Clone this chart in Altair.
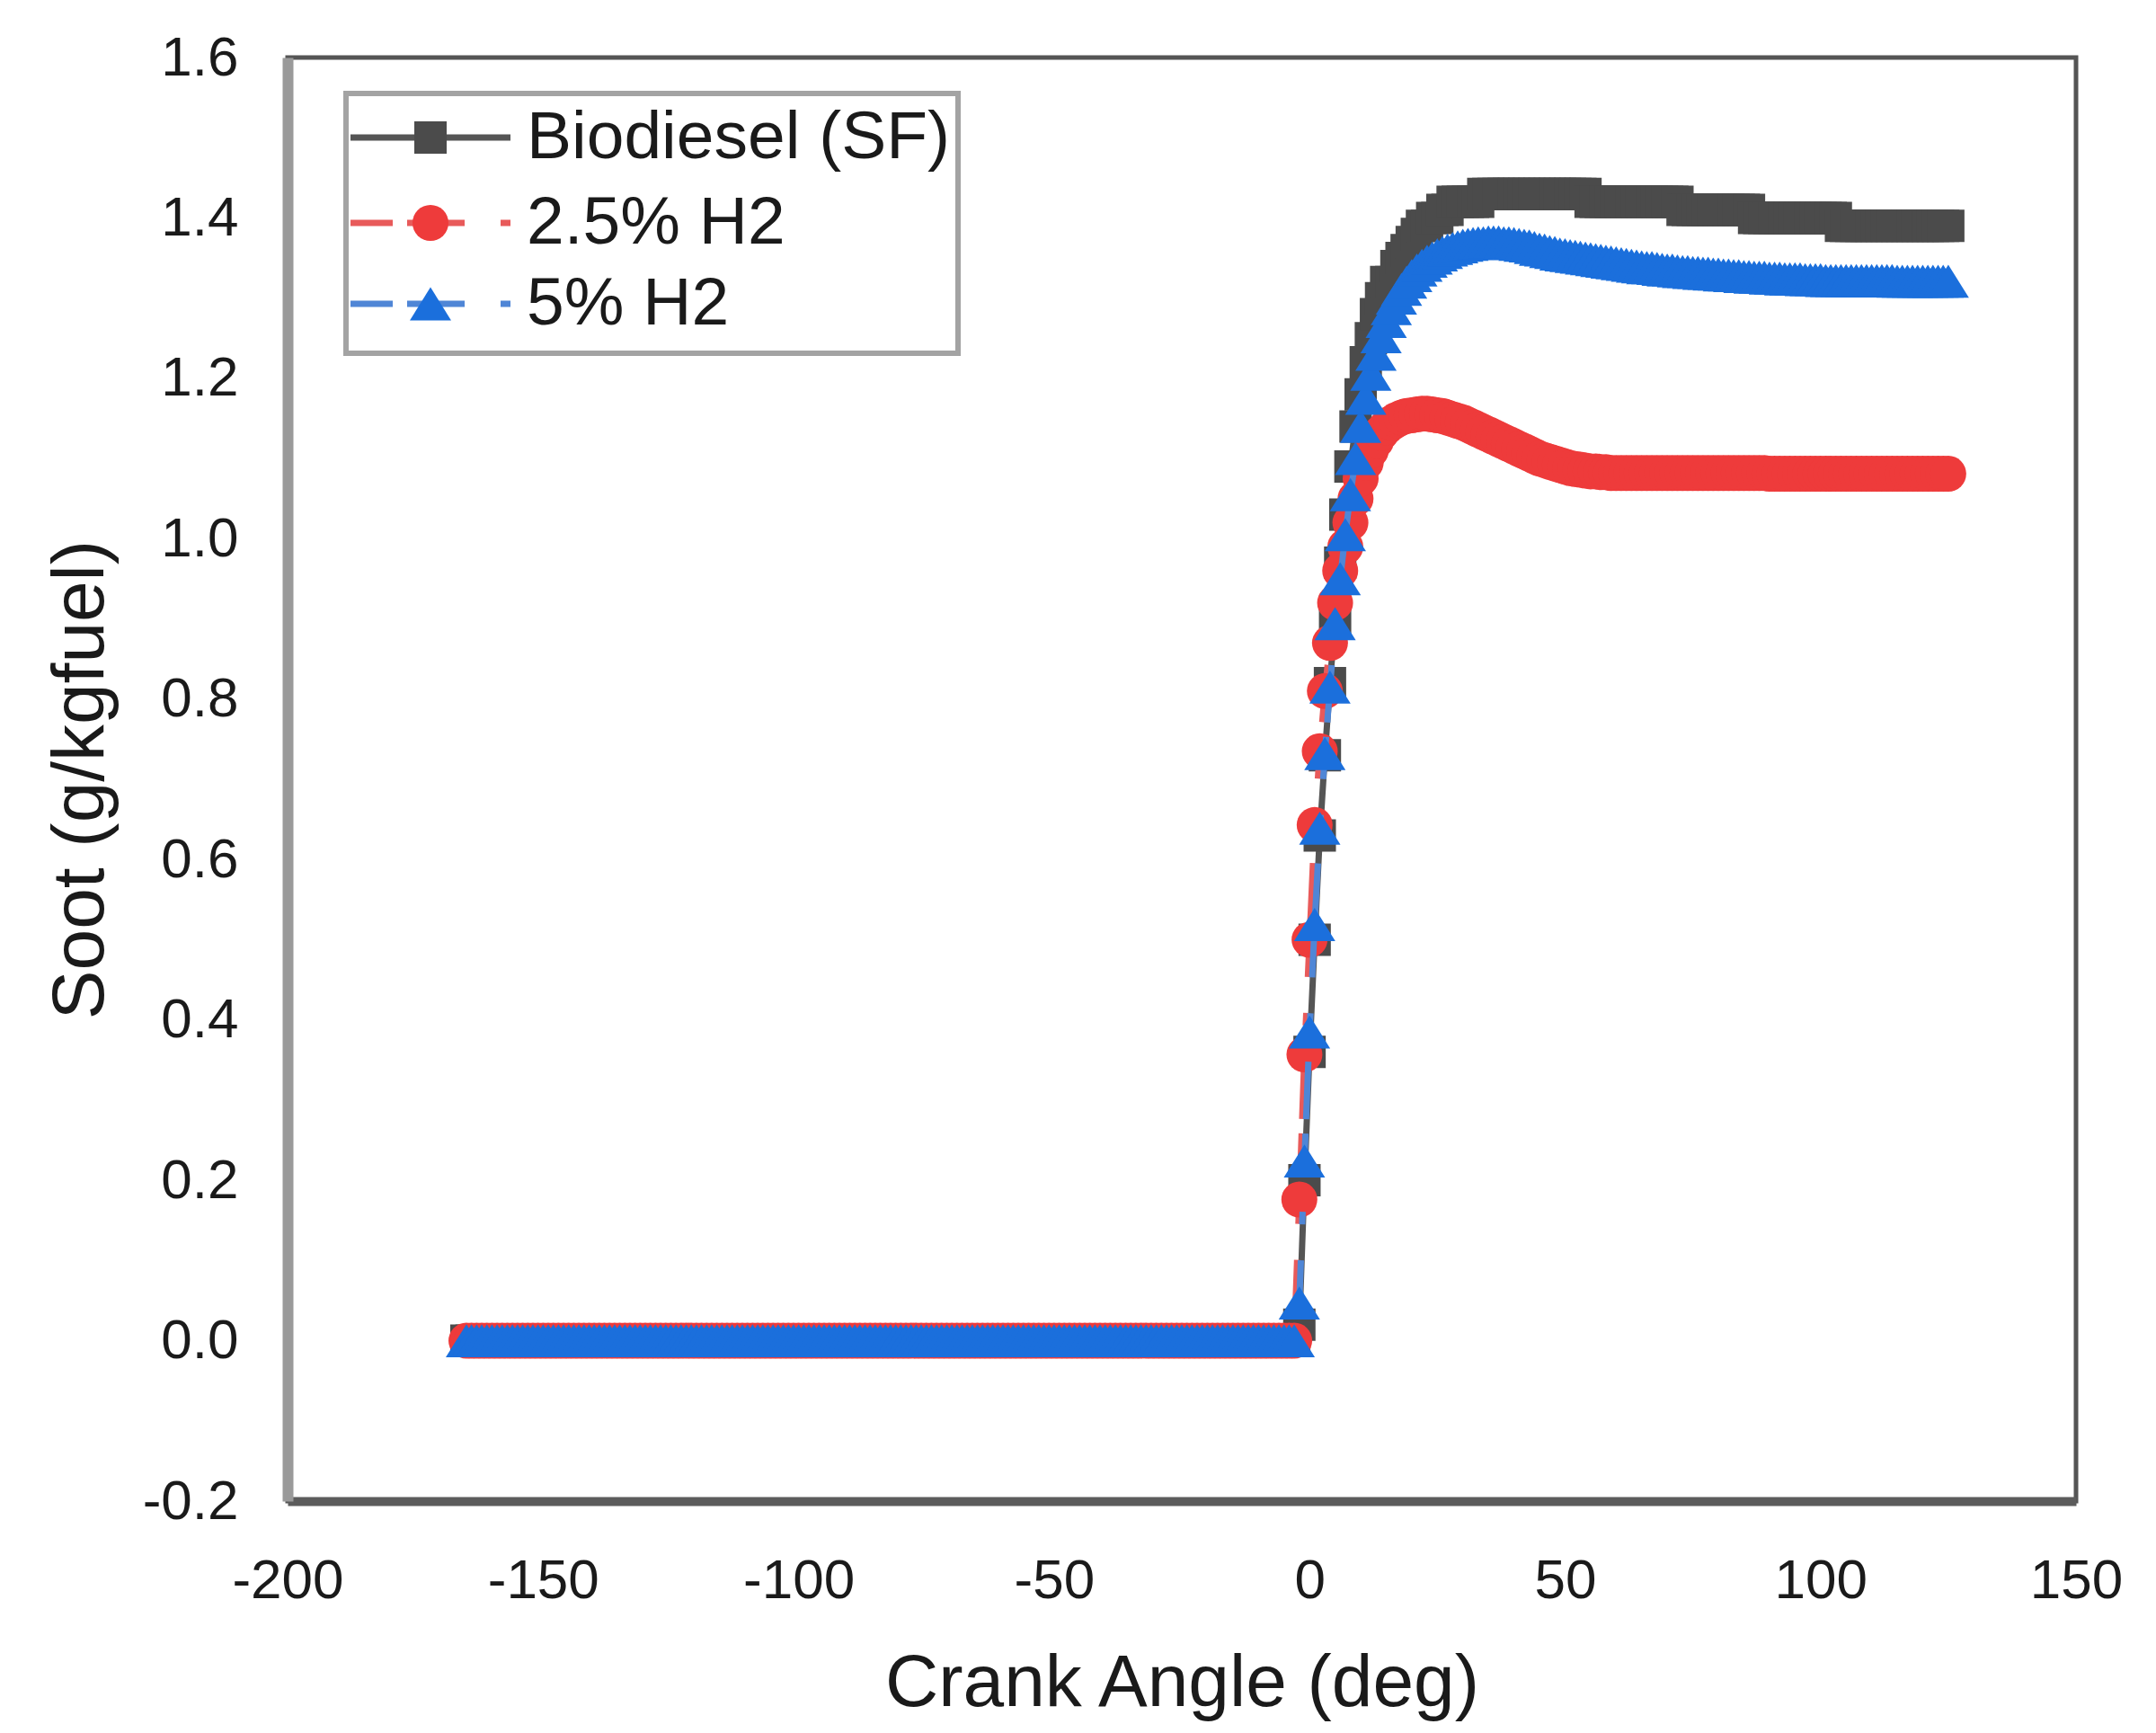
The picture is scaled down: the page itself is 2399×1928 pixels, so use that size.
import altair as alt
import pandas as pd

# ---------------- data ----------------
SERIES = ["Biodiesel (SF)", "2.5% H2", "5% H2"]

# crank-angle grid of the simulation output, 1 deg steps
ANGLES = list(range(-165, 126))

# compression stroke: no soot until just before TDC (-165 .. -3 deg)
FLAT_ZERO = [0.0] * 163

# -2 .. 125 deg
SOOT_SF_RISE = [
    0.02, 0.20, 0.36, 0.50, 0.63, 0.73, 0.82, 0.90, 0.97, 1.03, 1.09, 1.14,
    1.18, 1.22, 1.25, 1.28, 1.30, 1.32, 1.32, 1.34, 1.35, 1.36,
    1.37, 1.38, 1.39, 1.39, 1.40, 1.40, 1.41, 1.41, 1.42, 1.42,
    1.42, 1.42, 1.42, 1.42,
    1.43, 1.43, 1.43, 1.43, 1.43, 1.43, 1.43, 1.43, 1.43, 1.43, 1.43,
    1.43, 1.43, 1.43, 1.43, 1.43, 1.43, 1.43, 1.43, 1.43, 1.43,
    1.42, 1.42, 1.42, 1.42, 1.42, 1.42, 1.42, 1.42, 1.42, 1.42, 1.42, 1.42,
    1.42, 1.42, 1.42, 1.42, 1.42, 1.42,
    1.41, 1.41, 1.41, 1.41, 1.41, 1.41, 1.41, 1.41, 1.41, 1.41, 1.41, 1.41,
    1.41, 1.41,
    1.40, 1.40, 1.40, 1.40, 1.40, 1.40, 1.40, 1.40, 1.40, 1.40, 1.40, 1.40,
    1.40, 1.40, 1.40, 1.40, 1.40,
    1.39, 1.39, 1.39, 1.39, 1.39, 1.39, 1.39, 1.39, 1.39, 1.39, 1.39, 1.39,
    1.39, 1.39, 1.39, 1.39, 1.39, 1.39, 1.39, 1.39, 1.39, 1.39,
]

SOOT_H25_RISE = [
    0.176, 0.357, 0.500, 0.643, 0.735, 0.810, 0.870, 0.920, 0.960, 0.990, 1.020, 1.050,
    1.075, 1.095, 1.110, 1.122, 1.132, 1.139, 1.144, 1.148, 1.151, 1.153,
    1.154, 1.155, 1.156, 1.156, 1.155, 1.154, 1.153, 1.151, 1.149, 1.147,
    1.145, 1.142, 1.139, 1.136, 1.133, 1.130, 1.127, 1.124, 1.121, 1.118,
    1.115, 1.112, 1.109, 1.106, 1.103, 1.100, 1.098, 1.096, 1.094, 1.092,
    1.090, 1.088, 1.087, 1.086, 1.085, 1.084, 1.084, 1.083, 1.083, 1.082,
    1.082, 1.082, 1.082, 1.082, 1.082, 1.082, 1.082, 1.082, 1.082, 1.082,
    1.082, 1.082, 1.082, 1.082, 1.082, 1.082, 1.082, 1.082, 1.082, 1.082,
    1.082, 1.082, 1.082, 1.082, 1.082, 1.082, 1.082, 1.082, 1.082, 1.082,
    1.081, 1.081, 1.081, 1.081, 1.081, 1.081, 1.081, 1.081, 1.081, 1.081,
    1.081, 1.081, 1.081, 1.081, 1.081, 1.081, 1.081, 1.081, 1.081, 1.081,
    1.081, 1.081, 1.081, 1.081, 1.081, 1.081, 1.081, 1.081, 1.081, 1.081,
    1.081, 1.081, 1.081, 1.081, 1.081, 1.081,
]

SOOT_H5_RISE = [
    0.047, 0.224, 0.385, 0.519, 0.639, 0.732, 0.815, 0.894, 0.950, 1.005, 1.055, 1.100,
    1.140, 1.175, 1.205, 1.230, 1.252, 1.271, 1.287, 1.300, 1.311, 1.320,
    1.328, 1.335, 1.341, 1.346, 1.350, 1.354, 1.357, 1.360, 1.362, 1.364,
    1.366, 1.367, 1.368, 1.369, 1.369, 1.370, 1.370, 1.370, 1.369, 1.369,
    1.368, 1.367, 1.366, 1.365, 1.363, 1.361, 1.360, 1.358, 1.357, 1.355,
    1.354, 1.353, 1.352, 1.351, 1.350, 1.349, 1.348, 1.347, 1.346, 1.345,
    1.344, 1.343, 1.342, 1.341, 1.340, 1.339, 1.338, 1.338, 1.337, 1.336,
    1.335, 1.335, 1.334, 1.333, 1.333, 1.332, 1.332, 1.331, 1.331, 1.330,
    1.330, 1.329, 1.329, 1.328, 1.328, 1.327, 1.327, 1.326, 1.326, 1.326,
    1.325, 1.325, 1.325, 1.324, 1.324, 1.324, 1.324, 1.323, 1.323, 1.323,
    1.323, 1.322, 1.322, 1.322, 1.322, 1.322, 1.322, 1.322, 1.322, 1.322,
    1.322, 1.322, 1.322, 1.322, 1.322, 1.321, 1.321, 1.321, 1.321, 1.321,
    1.321, 1.321, 1.321, 1.321, 1.321, 1.321,
]

SOOT = {
    "Biodiesel (SF)": FLAT_ZERO + SOOT_SF_RISE,
    "2.5% H2": FLAT_ZERO + SOOT_H25_RISE,
    "5% H2": FLAT_ZERO + SOOT_H5_RISE,
}

X_TICKS = [-200, -150, -100, -50, 0, 50, 100, 150]
Y_TICKS = [-0.2, 0.0, 0.2, 0.4, 0.6, 0.8, 1.0, 1.2, 1.4, 1.6]

# ---------------- styles ----------------
FONT = "Liberation Sans"
TEXT_COLOR = "#1a1a1a"
TRI = "M0,-0.8L1,0.8L-1,0.8Z"
STYLE = {
    "Biodiesel (SF)": dict(line="#555555", fill="#4b4b4b", shape="square", size=1296, dash=[1, 0]),
    "2.5% H2": dict(line="#e85a5a", fill="#ee3b3b", shape="circle", size=1600, dash=[47, 16, 64, 40, 14, 40]),
    "5% H2": dict(line="#4f86d6", fill="#1b6fdc", shape=TRI, size=2116, dash=[47, 16, 64, 40, 14, 40]),
}

W, H = 1990, 1606

x_enc = alt.X(
    "angle:Q",
    scale=alt.Scale(domain=[-200, 150], nice=False, zero=False),
    axis=alt.Axis(
        values=X_TICKS,
        labelExpr="datum.value < 0 ? '-' + format(-datum.value, 'd') : format(datum.value, 'd')",
        labelFont=FONT, labelFontSize=62, labelColor=TEXT_COLOR,
        labelPadding=58, labelFlush=False, labelOverlap=False,
        ticks=False, grid=False,
        domainColor="#5c5c5c", domainWidth=10,
        title="Crank Angle (deg)", titleFont=FONT, titleFontSize=82,
        titleFontWeight="normal", titleColor=TEXT_COLOR,
        titleX=W / 2, titleY=227, titleAlign="center", titleBaseline="alphabetic",
    ),
)
y_enc = alt.Y(
    "soot:Q",
    scale=alt.Scale(domain=[-0.2, 1.6], nice=False, zero=False),
    axis=alt.Axis(
        values=Y_TICKS,
        labelExpr="datum.value < 0 ? '-' + format(-datum.value, '.1f') : format(datum.value, '.1f')",
        labelFont=FONT, labelFontSize=62, labelColor=TEXT_COLOR,
        labelPadding=55, labelOverlap=False,
        ticks=False, grid=False,
        domainColor="#9a9a9a", domainWidth=12,
        title="Soot (g/kgfuel)", titleFont=FONT, titleFontSize=82,
        titleFontWeight="normal", titleColor=TEXT_COLOR,
        titleAngle=270, titleX=-206, titleY=H / 2,
        titleAlign="center", titleBaseline="alphabetic",
    ),
)

layers = []
for s in SERIES:
    df = pd.DataFrame({"angle": ANGLES, "soot": SOOT[s], "series": s})
    st = STYLE[s]
    base = alt.Chart(df)
    layers.append(
        base.mark_line(color=st["line"], strokeWidth=7, strokeDash=st["dash"]).encode(x=x_enc, y=y_enc)
    )
    layers.append(
        base.mark_point(filled=True, opacity=1, color=st["fill"], shape=st["shape"], size=st["size"])
        .encode(x=x_enc, y=y_enc)
    )

# ---------------- legend box ----------------
one = pd.DataFrame({"k": [0]})
layers.append(
    alt.Chart(one).mark_rect(fill="white", stroke="#a3a3a3", strokeWidth=6).encode(
        x=alt.value(65), x2=alt.value(746), y=alt.value(40), y2=alt.value(329)
    )
)
ROW_Y = [89, 184, 274]
for s, ry in zip(SERIES, ROW_Y):
    st = STYLE[s]
    layers.append(
        alt.Chart(one).mark_rule(color=st["line"], strokeWidth=7, strokeDash=st["dash"]).encode(
            x=alt.value(70), x2=alt.value(248), y=alt.value(ry)
        )
    )
    layers.append(
        alt.Chart(one).mark_point(filled=True, opacity=1, color=st["fill"], shape=st["shape"], size=st["size"]).encode(
            x=alt.value(159), y=alt.value(ry)
        )
    )
    layers.append(
        alt.Chart(one).mark_text(
            text=s, align="left", baseline="middle", font=FONT, fontSize=75, color=TEXT_COLOR
        ).encode(x=alt.value(266), y=alt.value(ry))
    )

chart = (
    alt.layer(*layers)
    .properties(
        width=W, height=H,
        autosize=alt.AutoSizeParams(type="none"),
        padding={"left": 312, "top": 56, "right": 80, "bottom": 250},
        background="white",
    )
    .configure_view(stroke="#555555", strokeWidth=5)
)

chart.save("out.html", embed_options={"renderer": "svg", "actions": False})
